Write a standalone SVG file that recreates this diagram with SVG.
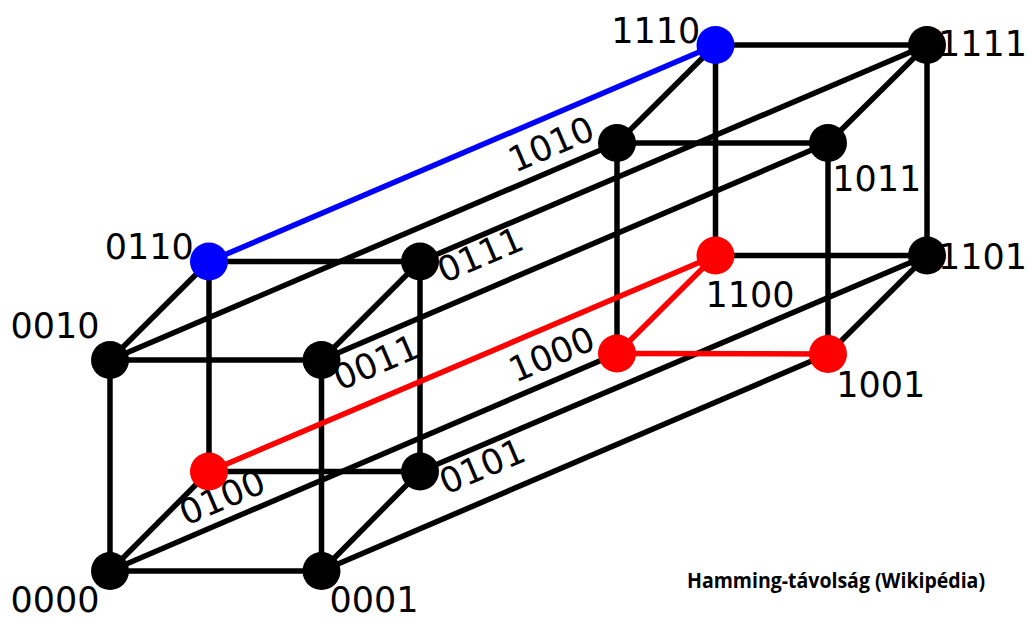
<svg xmlns="http://www.w3.org/2000/svg" width="1029" height="618" viewBox="0 0 1029 618">
<style>
.lbl{font-family:"DejaVu Sans",sans-serif;font-size:35px;fill:#000}
.cap{font-family:"Open Sans","Noto Sans",sans-serif;font-size:21px;font-weight:bold;fill:#000}
.e line{stroke:#000;stroke-width:5.5}
.e line.r{stroke:#ff0000}
.e line.b{stroke:#0000ff}
.k{fill:#000}.rd{fill:#ff0000}.bl{fill:#0000ff}
</style>
<rect width="1029" height="618" fill="#fff"/>
<g id="labels">
<text class="lbl" x="10.4" y="611.5">0000</text>
<text class="lbl" x="329.4" y="611.5">0001</text>
<text class="lbl" x="10.4" y="338.3">0010</text>
<text class="lbl" transform="translate(340,391) rotate(-23.2)">0011</text>
<text class="lbl" transform="translate(186,526) rotate(-23.2)">0100</text>
<text class="lbl" transform="translate(446,495) rotate(-23.2)">0101</text>
<text class="lbl" x="104.7" y="259.3">0110</text>
<text class="lbl" transform="translate(444,283.5) rotate(-23.2)">0111</text>
<text class="lbl" transform="translate(515.5,383) rotate(-23.2)">1000</text>
<text class="lbl" x="836.2" y="396.7">1001</text>
<text class="lbl" transform="translate(515,173) rotate(-23.2)">1010</text>
<text class="lbl" x="832.2" y="190.7">1011</text>
<text class="lbl" x="705.5" y="307.3">1100</text>
<text class="lbl" x="937.9" y="269.3">1101</text>
<text class="lbl" x="611.2" y="42.7">1110</text>
<text class="lbl" x="937.9" y="56">1111</text>
</g>
<g id="edges" class="e">
<line x1="110" y1="571" x2="321.5" y2="571"/>
<line x1="110" y1="360" x2="321.5" y2="360"/>
<line x1="209" y1="471.5" x2="420" y2="471.5"/>
<line x1="209" y1="261.5" x2="420" y2="261.5"/>
<line x1="617" y1="143" x2="828" y2="143"/>
<line x1="715.5" y1="255.5" x2="927" y2="255.5"/>
<line x1="715.5" y1="45" x2="927" y2="45"/>
<line x1="110" y1="571" x2="110" y2="360"/>
<line x1="321.5" y1="571" x2="321.5" y2="360"/>
<line x1="209" y1="471.5" x2="209" y2="261.5"/>
<line x1="420" y1="471.5" x2="420" y2="261.5"/>
<line x1="617" y1="353.5" x2="617" y2="143"/>
<line x1="828" y1="354" x2="828" y2="143"/>
<line x1="715.5" y1="255.5" x2="715.5" y2="45"/>
<line x1="927" y1="255.5" x2="927" y2="45"/>
<line x1="110" y1="571" x2="209" y2="471.5"/>
<line x1="321.5" y1="571" x2="420" y2="471.5"/>
<line x1="110" y1="360" x2="209" y2="261.5"/>
<line x1="321.5" y1="360" x2="420" y2="261.5"/>
<line x1="828" y1="354" x2="927" y2="255.5"/>
<line x1="617" y1="143" x2="715.5" y2="45"/>
<line x1="828" y1="143" x2="927" y2="45"/>
<line x1="110" y1="571" x2="617" y2="353.5"/>
<line x1="321.5" y1="571" x2="828" y2="354"/>
<line x1="110" y1="360" x2="617" y2="143"/>
<line x1="321.5" y1="360" x2="828" y2="143"/>
<line x1="420" y1="471.5" x2="927" y2="255.5"/>
<line x1="420" y1="261.5" x2="927" y2="45"/>
<line class="r" x1="617" y1="353.5" x2="828" y2="354"/>
<line class="r" x1="617" y1="353.5" x2="715.5" y2="255.5"/>
<line class="r" x1="209" y1="471.5" x2="715.5" y2="255.5"/>
<line class="b" x1="209" y1="261.5" x2="715.5" y2="45"/>
</g>
<g id="n0000"><circle class="k" cx="110" cy="571" r="19"/></g>
<g id="n0001"><circle class="k" cx="321.5" cy="571" r="19"/></g>
<g id="n0010"><circle class="k" cx="110" cy="360" r="19"/></g>
<g id="n0011"><circle class="k" cx="321.5" cy="360" r="19"/></g>
<g id="n0100"><circle class="rd" cx="209" cy="471.5" r="19"/></g>
<g id="n0101"><circle class="k" cx="420" cy="471.5" r="19"/></g>
<g id="n0110"><circle class="bl" cx="209" cy="261.5" r="19"/></g>
<g id="n0111"><circle class="k" cx="420" cy="261.5" r="19"/></g>
<g id="n1000"><circle class="rd" cx="617" cy="353.5" r="19"/></g>
<g id="n1001"><circle class="rd" cx="828" cy="354" r="19"/></g>
<g id="n1010"><circle class="k" cx="617" cy="143" r="19"/></g>
<g id="n1011"><circle class="k" cx="828" cy="143" r="19"/></g>
<g id="n1100"><circle class="rd" cx="715.5" cy="255.5" r="19"/></g>
<g id="n1101"><circle class="k" cx="927" cy="255.5" r="19"/></g>
<g id="n1110"><circle class="bl" cx="715.5" cy="45" r="19"/></g>
<g id="n1111"><circle class="k" cx="927" cy="45" r="19"/></g>
<text class="cap" x="687" y="588.3" textLength="298" lengthAdjust="spacingAndGlyphs">Hamming-távolság (Wikipédia)</text>
</svg>
